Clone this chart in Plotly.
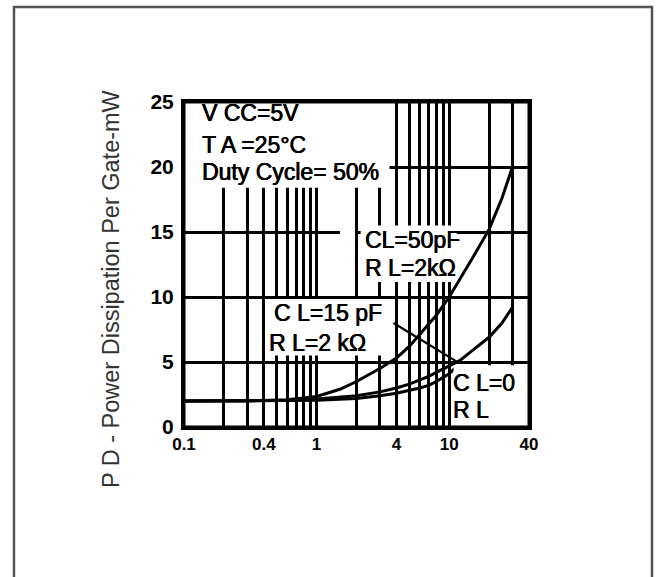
import numpy as np
import plotly.graph_objects as go

# Power dissipation per gate (mW) versus input frequency (MHz)
freq_50pf = [0.1, 0.3, 0.6, 1, 1.5, 2, 3, 4, 5, 6, 8, 10, 12, 15, 20, 25, 30]
pd_50pf = [2.0, 2.0, 2.1, 2.35, 2.9, 3.5, 4.5, 5.3, 6.2, 7.1, 8.6, 10.0, 11.3, 13.0, 15.2, 17.6, 20.0]

freq_15pf = [0.1, 0.3, 0.6, 1, 2, 3, 4, 5, 6, 7, 8, 10, 12, 15, 20, 25, 30]
pd_15pf = [2.0, 2.0, 2.05, 2.15, 2.4, 2.7, 3.0, 3.3, 3.6, 3.9, 4.2, 4.7, 5.1, 5.9, 6.9, 8.0, 9.2]

freq_0pf = [0.1, 0.3, 0.6, 1, 2, 3, 4, 5, 6, 7, 8, 10, 11]
pd_0pf = [2.0, 2.0, 2.0, 2.05, 2.2, 2.4, 2.6, 2.8, 3.0, 3.2, 3.5, 4.1, 4.5]

# Log-scale grid positions and the ones that carry a label
grid_freqs = [0.1, 0.2, 0.3, 0.4, 0.5, 0.6, 0.7, 0.8, 0.9,
              1, 2, 3, 4, 5, 6, 7, 8, 9, 10, 20, 30, 40]
labelled_freqs = {0.1: "0.1", 0.4: "0.4", 1: "1", 4: "4", 10: "10", 40: "40"}
y_ticks = [0, 5, 10, 15, 20, 25]

X_MIN, X_MAX = 0.1, 40
Y_MIN, Y_MAX = 0, 25
FONT = "Liberation Sans, Arial, sans-serif"
INK = "0.4px 0px 0px black, -0.3px 0px 0px black"


def fx(f):
    """Frequency -> paper x fraction on the log axis."""
    return (np.log10(f) - np.log10(X_MIN)) / (np.log10(X_MAX) - np.log10(X_MIN))


curve_style = dict(mode="lines", line=dict(color="black", width=3),
                   hoverinfo="skip", showlegend=False)

fig = go.Figure()
fig.add_trace(go.Scatter(x=freq_50pf, y=pd_50pf, name="CL=50pF", **curve_style))
fig.add_trace(go.Scatter(x=freq_15pf, y=pd_15pf, name="CL=15pF", **curve_style))
fig.add_trace(go.Scatter(x=freq_0pf, y=pd_0pf, name="CL=0", **curve_style))

# Leader from the 15 pF label down to its curve
lead_f = [3.8, 11.5]
lead_p = [8.0, float(np.interp(np.log10(11.5), np.log10(freq_15pf), pd_15pf))]
fig.add_trace(go.Scatter(x=lead_f, y=lead_p, mode="lines",
                         line=dict(color="black", width=2.2),
                         hoverinfo="skip", showlegend=False))

# White panels that interrupt the grid behind the text blocks
panels = [
    (0.1, 3.55, 18.4, 25.0),    # conditions block
    (1.5, 1.95, 14.6, 15.4),    # break in the 15 mW line
    (2.15, 11.4, 11.15, 15.5),  # CL=50pF label
    (0.415, 3.7, 5.5, 9.85),    # CL=15pF label
    (10.8, 40, 0.0, 4.75),      # CL=0 label
]
shapes = []
for f0, f1, p0, p1 in panels:
    shapes.append(dict(type="rect", xref="paper", yref="y",
                       x0=fx(f0), x1=fx(f1), y0=p0, y1=p1,
                       fillcolor="white", line=dict(width=0), layer="above"))

# Plot border, redrawn over the panels
shapes.append(dict(type="rect", xref="paper", yref="paper",
                   x0=0, x1=1, y0=0, y1=1,
                   line=dict(color="black", width=3),
                   fillcolor="rgba(0,0,0,0)", layer="above"))

# Page frame
shapes.append(dict(type="rect", xref="paper", yref="paper",
                   x0=-0.4928, x1=1.3565, y0=-0.6, y1=1.2923,
                   line=dict(color="#555555", width=2.5),
                   fillcolor="rgba(0,0,0,0)", layer="above"))

text_items = [
    ("V CC=5V", 0.132, 24.15),
    ("T A =25°C", 0.132, 21.7),
    ("Duty Cycle= 50%", 0.132, 19.6),
    ("CL=50pF", 2.22, 14.4),
    ("R L=2kΩ", 2.22, 12.2),
    ("C L=15 pF", 0.458, 8.8),
    ("R L=2 kΩ", 0.42, 6.5),
    ("C L=0", 10.3, 3.4),
    ("R L", 10.3, 1.3),
]
annotations = []
for txt, f, p in text_items:
    annotations.append(dict(text=txt, xref="paper", yref="y", x=fx(f), y=p,
                            xanchor="left", yanchor="middle", showarrow=False,
                            font=dict(family=FONT, size=23, color="black",
                                      shadow=INK)))

annotations.append(dict(text="P D - Power Dissipation Per Gate-mW",
                        xref="paper", yref="paper", x=-0.212, y=0.427,
                        xanchor="center", yanchor="middle", textangle=-90,
                        showarrow=False,
                        font=dict(family=FONT, size=23.5, color="#333333")))

fig.update_layout(
    width=658, height=577,
    margin=dict(l=184, r=129, t=102, b=150, pad=0),
    paper_bgcolor="white", plot_bgcolor="white",
    shapes=shapes, annotations=annotations,
    xaxis=dict(type="log", range=[np.log10(X_MIN), np.log10(X_MAX)],
               tickmode="array", tickvals=grid_freqs,
               ticktext=[labelled_freqs.get(v, "") for v in grid_freqs],
               showgrid=True, gridcolor="black", gridwidth=2.5,
               showline=True, mirror=True, linecolor="black", linewidth=3,
               ticks="", zeroline=False,
               tickfont=dict(family=FONT, size=17, color="black", weight="bold")),
    yaxis=dict(range=[Y_MIN, Y_MAX], tickmode="array", tickvals=y_ticks,
               showgrid=True, gridcolor="black", gridwidth=2.5,
               showline=True, mirror=True, linecolor="black", linewidth=3,
               ticks="", zeroline=False, ticklabelstandoff=3,
               tickfont=dict(family=FONT, size=21, color="black", weight="bold")),
)

fig.write_html("out.html")
